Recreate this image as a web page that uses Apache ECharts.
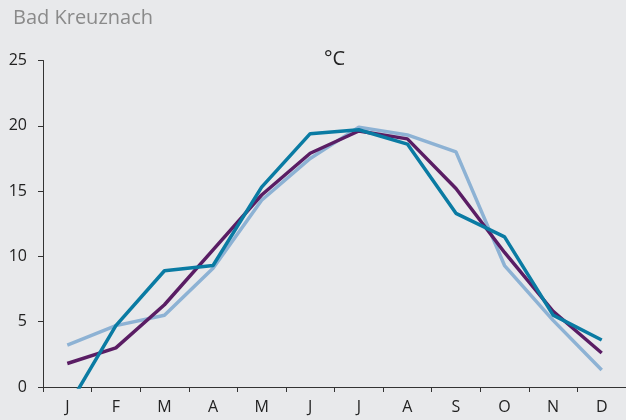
<!DOCTYPE html>
<html>
<head>
<meta charset="utf-8">
<script src="https://cdn.jsdelivr.net/npm/echarts@6/dist/echarts.min.js"></script>
<style>
html,body{margin:0;padding:0;background:#e8e9eb;}
#main{width:626px;height:420px;}
</style>
</head>
<body>
<div id="main"></div>
<script>
var categories = ['J','F','M','A','M','J','J','A','S','O','N','D'];
var seriesPurple = [1.8, 3.0, 6.3, 10.5, 14.7, 17.9, 19.6, 19.0, 15.2, 10.3, 5.8, 2.6];
var seriesTeal = [-1.6, 4.7, 8.9, 9.3, 15.3, 19.4, 19.7, 18.6, 13.3, 11.5, 5.5, 3.6];
var seriesLight = [3.2, 4.7, 5.5, 9.1, 14.3, 17.5, 19.9, 19.3, 18.0, 9.3, 5.1, 1.3];
var yTicks = [0, 5, 10, 15, 20, 25];

var chart = echarts.init(document.getElementById('main'));
var fontFam = '"Open Sans", "Noto Sans", sans-serif';
chart.setOption({
  backgroundColor: '#e8e9eb',
  animation: false,
  title: [{
    text: 'Bad Kreuznach', left: 8, top: 3,
    textStyle: {color: '#8a8a8a', fontSize: 20, fontWeight: 'normal', fontFamily: fontFam}
  }, {
    text: '°C', left: 319, top: 44,
    textStyle: {color: '#222', fontSize: 20, fontWeight: 'normal', fontFamily: fontFam}
  }],
  grid: {left: 43, right: 0, top: 60.5, bottom: 33, containLabel: false},
  xAxis: {
    type: 'category', data: categories, boundaryGap: true,
    axisLine: {lineStyle: {color: '#333', width: 1}},
    axisTick: {show: true, length: 5, lineStyle: {color: '#333'}},
    axisLabel: {color: '#222', fontSize: 16, margin: 12, fontFamily: fontFam}
  },
  yAxis: {
    type: 'value', min: 0, max: 25, interval: 5,
    axisLine: {show: true, lineStyle: {color: '#333', width: 1}},
    axisTick: {show: true, length: 5, lineStyle: {color: '#333'}},
    axisLabel: {color: '#222', fontSize: 16, margin: 16, fontFamily: fontFam,
      formatter: function(v){ return yTicks.indexOf(v) >= 0 ? String(v) : ''; }},
    splitLine: {show: false}
  },
  series: [
    {type: 'line', data: seriesLight, symbol: 'none', clip: true,
     lineStyle: {color: '#8db2d4', width: 3.5}},
    {type: 'line', data: seriesPurple, symbol: 'none', clip: true,
     lineStyle: {color: '#5a1d64', width: 3.5}},
    {type: 'line', data: seriesTeal, symbol: 'none', clip: true,
     lineStyle: {color: '#0a7ba3', width: 3.5}}
  ]
});
</script>
</body>
</html>
